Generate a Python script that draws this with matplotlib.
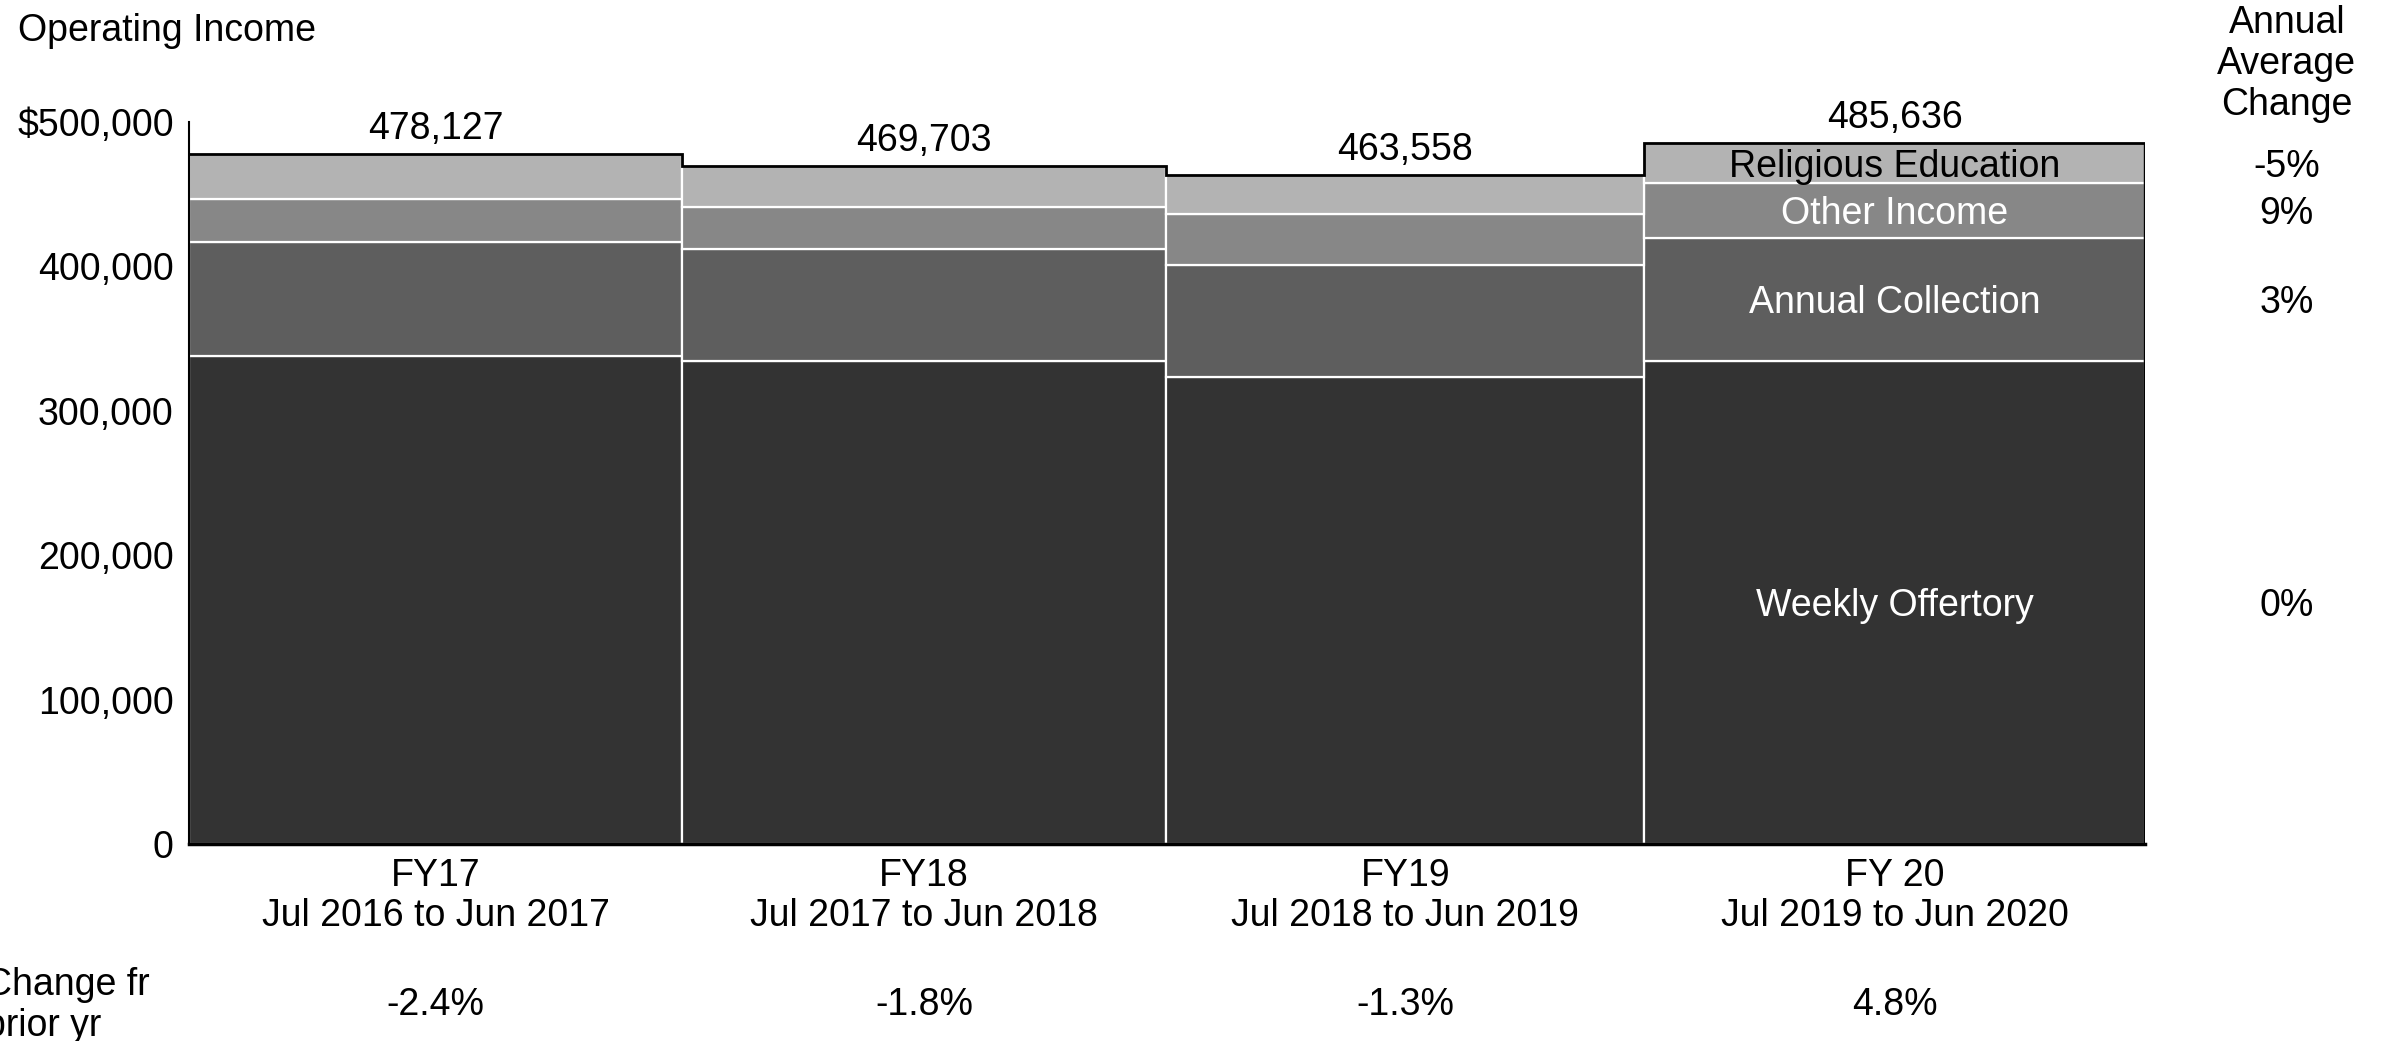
import matplotlib
matplotlib.use("Agg")
import matplotlib.pyplot as plt
import matplotlib.transforms as mtransforms
from matplotlib.ticker import FuncFormatter
import numpy as np

plt.rcParams['font.family'] = ['Liberation Sans', 'DejaVu Sans']

# ---- data ----
years = ["FY17", "FY18", "FY19", "FY 20"]
periods = ["Jul 2016 to Jun 2017", "Jul 2017 to Jun 2018",
           "Jul 2018 to Jun 2019", "Jul 2019 to Jun 2020"]
totals = [478127, 469703, 463558, 485636]
weekly_offertory = [338000, 334700, 323300, 334700]
annual_collection = [78800, 77600, 77600, 85000]
other_income = [29800, 29000, 35400, 38300]
religious_education = [31527, 28403, 27258, 27636]
change_prior = ["-2.4%", "-1.8%", "-1.3%", "4.8%"]
segment_names = ["Weekly Offertory", "Annual Collection", "Other Income", "Religious Education"]
annual_avg_change = ["0%", "3%", "9%", "-5%"]
y_ticks = [0, 100000, 200000, 300000, 400000, 500000]

colors = ["#333333", "#5e5e5e", "#878787", "#b3b3b3"]
label_colors = ["white", "white", "white", "black"]
FS = 27

fig = plt.figure(figsize=(23.87, 10.41), dpi=100)
ax = fig.add_axes([0.0792, 0.1892, 0.8194, 0.6936])

widths = np.array(totals, dtype=float)
edges = np.concatenate([[0], np.cumsum(widths)])
lefts = edges[:-1]
centers = lefts + widths / 2

series = [weekly_offertory, annual_collection, other_income, religious_education]
bottom = np.zeros(len(totals))
seg_centers_last = []
for vals, col in zip(series, colors):
    vals = np.array(vals, dtype=float)
    ax.bar(lefts, vals, width=widths, bottom=bottom, align='edge',
           color=col, edgecolor='white', linewidth=1.6, zorder=2)
    seg_centers_last.append(bottom[-1] + vals[-1] / 2)
    bottom = bottom + vals

# total outline
ax.stairs(totals, edges, baseline=None, color='black', linewidth=2, zorder=3)
ax.vlines(edges[-1], 0, totals[-1], color='black', linewidth=2.5, zorder=3)

ax.set_xlim(edges[0], edges[-1])
ax.set_ylim(0, 500000)

for s in ['top', 'right']:
    ax.spines[s].set_visible(False)
ax.spines['left'].set_linewidth(1.5)
ax.spines['bottom'].set_linewidth(2.5)
ax.spines['left'].set_zorder(4)
ax.spines['bottom'].set_zorder(4)

ax.set_yticks(y_ticks)
ax.yaxis.set_major_formatter(FuncFormatter(
    lambda v, p: "$500,000" if v == 500000 else f"{int(v):,}"))
ax.tick_params(axis='y', length=0, pad=11, labelsize=FS)

ax.set_xticks(centers, [f"{y}\n{p}" for y, p in zip(years, periods)])
ax.tick_params(axis='x', length=0, pad=10, labelsize=FS)
plt.setp(ax.get_xticklabels(), linespacing=1.15)

# total labels
for c, t in zip(centers, totals):
    ax.annotate(f"{t:,}", (c, t), xytext=(0, 10.5), textcoords='offset points',
                ha='center', va='baseline', fontsize=FS, annotation_clip=False)

# segment labels on last bar + annual avg change column
tr_right = mtransforms.blended_transform_factory(fig.transFigure, ax.transData)
for name, yc, lc, chg in zip(segment_names, seg_centers_last, label_colors, annual_avg_change):
    ax.text(centers[-1], yc, name, ha='center', va='center_baseline', color=lc,
            fontsize=FS, zorder=5)
    ax.text(0.958, yc, chg, transform=tr_right, ha='center', va='center_baseline',
            fontsize=FS, clip_on=False)

fig.text(0.958, 1 - 64 / 1041, "Annual\nAverage\nChange", ha='center', va='center',
         fontsize=FS, linespacing=1.17)

# change from prior year row
tr_bottom = mtransforms.blended_transform_factory(ax.transData, fig.transFigure)
for c, s in zip(centers, change_prior):
    ax.text(c, 0.0342, s, transform=tr_bottom, ha='center', va='center',
            fontsize=FS, clip_on=False)
fig.text(-0.0063, 0.0342, "Change fr\nprior yr", ha='left', va='center',
         fontsize=FS, linespacing=1.17)

fig.text(0.0077, 0.970, "Operating Income", ha='left', va='center', fontsize=FS)

fig.savefig("out.png", dpi=100)
